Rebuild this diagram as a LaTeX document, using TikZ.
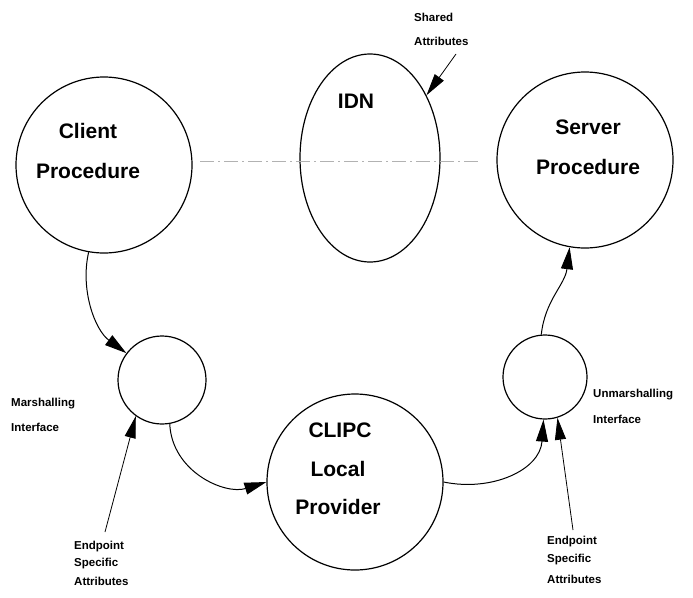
\documentclass[tikz,border=0pt]{standalone}
\usepackage{fontspec}
\setmainfont{Liberation Sans}
\usetikzlibrary{arrows.meta,shapes.geometric}
\begin{document}
\begin{tikzpicture}[x=1pt,y=-1pt,
  every node/.style={inner sep=0pt},
  ring/.style={draw,line width=1.2pt},
  bigtxt/.style={font=\fontsize{21}{21}\selectfont\bfseries},
  smalltxt/.style={font=\fontsize{11.5}{11.5}\selectfont\bfseries, anchor=west},
  conn/.style={line width=1pt,-{Triangle[length=22pt,width=12pt]}},
  thin/.style={line width=0.8pt,-{Triangle[length=22pt,width=11pt]}}]
\useasboundingbox (0,0) rectangle (693,597);
% shapes
\node[ring,circle,minimum size=176pt] (client) at (104,165) {};
\node[ring,ellipse,minimum width=140pt,minimum height=208pt] (idn) at (370,158) {};
\node[ring,circle,minimum size=176pt] (server) at (585,160) {};
\node[ring,circle,minimum size=88pt] (mar) at (162,380) {};
\node[ring,circle,minimum size=84pt] (unm) at (545,377) {};
\node[ring,circle,minimum size=176pt] (clipc) at (355,482) {};
% texts
\node[bigtxt] (t1) at (88,131) {Client};
\node[bigtxt] (t2) at (88,171) {Procedure};
\node[bigtxt] (t3) at (356,101) {IDN};
\node[bigtxt] (t4) at (588,127) {Server};
\node[bigtxt] (t5) at (588,167) {Procedure};
\node[bigtxt] (t6) at (340,430) {CLIPC};
\node[bigtxt] (t7) at (338,469) {Local};
\node[bigtxt] (t8) at (338,507) {Provider};
\node[smalltxt] (s1) at (414,17) {Shared};
\node[smalltxt] (s2) at (414,41) {Attributes};
\node[smalltxt] (m1) at (11,404) {Marshalling};
\node[smalltxt] (m2) at (11,427) {Interface};
\node[smalltxt] (u1) at (593,395) {Unmarshalling};
\node[smalltxt] (u2) at (593,419) {Interface};
\node[smalltxt] (e1) at (74,547) {Endpoint};
\node[smalltxt] (e2) at (74,564) {Specific};
\node[smalltxt] (e3) at (74,581) {Attributes};
\node[smalltxt] (f1) at (547,542) {Endpoint};
\node[smalltxt] (f2) at (547,560) {Specific};
\node[smalltxt] (f3) at (547,579) {Attributes};
% coordinates
\coordinate (sa) at (456,54);
\coordinate (el) at (105,532);
\coordinate (er) at (573,530);
% dash-dot line
\draw[gray!60,line width=0.8pt,dash pattern=on 14pt off 4pt on 2pt off 4pt] (200,161) -- (480,161);
% connectors
\draw[conn] (client.-100) .. controls (80,290) and (95,330) .. (mar.143);
\draw[conn] (mar.-80) .. controls (172,472) and (225,495) .. (clipc.180);
\draw[conn] (clipc.0) .. controls (492,492) and (540,470) .. (unm.-92);
\draw[conn] (unm.95) .. controls (545,300) and (565,285) .. (server.-100);
\draw[thin] (sa) -- (idn.48);
\draw[thin] (el) -- (mar.-126);
\draw[thin] (er) -- (unm.-73);
\end{tikzpicture}
\end{document}
